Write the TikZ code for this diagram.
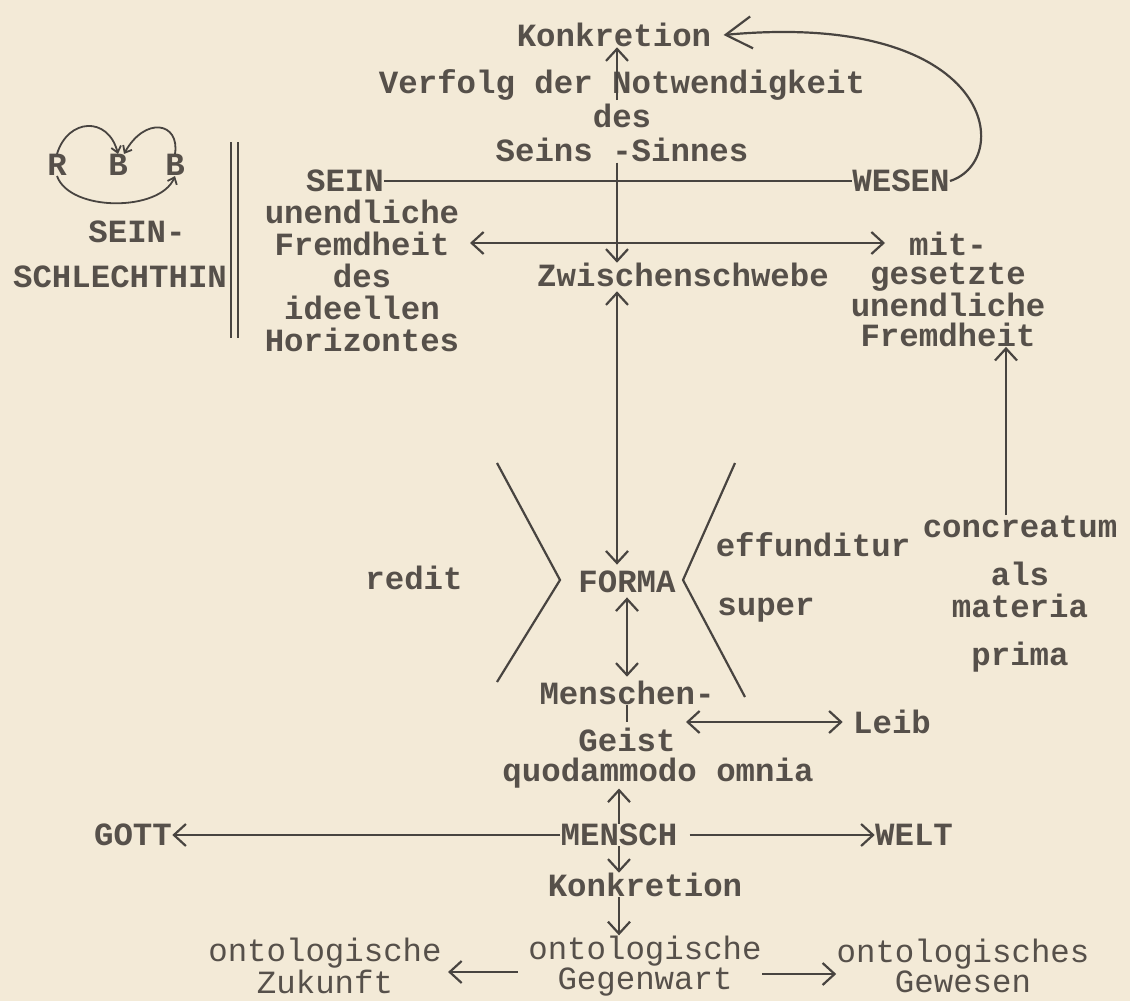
\documentclass[tikz,border=0pt]{standalone}
\usepackage{fontspec}
\setmonofont{Liberation Mono}
\usetikzlibrary{arrows.meta}

\definecolor{paper}{RGB}{243,234,215}
\definecolor{ink}{RGB}{86,80,74}
\definecolor{penc}{RGB}{72,68,64}

\tikzset{
  typed/.style={font=\ttfamily\bfseries\fontsize{16.2}{#1}\selectfont, text=ink, inner sep=0pt, align=center},
  typed/.default=16pt,
  plain/.style={font=\ttfamily\fontsize{16.2}{#1}\selectfont, text=ink, inner sep=0pt, align=center},
  plain/.default=13.5pt,
  pen/.style={draw=penc, line width=1.1pt},
}

\begin{document}
\begin{tikzpicture}[x=0.5pt, y=-0.5pt, >={Straight Barb[length=6pt,width=11pt]}]
    % Paper
    \fill[paper] (0,0) rectangle (1130,1001);
    \useasboundingbox (0,0) rectangle (1130,1001);

    % Upper block
    \node[typed] (konkrTop) at (614,35) {Konkretion};
    \node[typed=17pt] (verfolg) at (622,116) {Verfolg der Notwendigkeit\\des\\Seins -Sinnes};
    \node[typed] (sein) at (345,181) {SEIN};
    \node[typed] (wesen) at (901,181) {WESEN};
    \node[typed] (leftcol) at (362,276) {unendliche\\Fremdheit\\des\\ideellen\\Horizontes};
    \node[typed] (zwischen) at (683,275) {Zwischenschwebe};
    \node[typed=14.7pt] (rightcol) at (948,289) {mit-\\gesetzte\\unendliche\\Fremdheit};

    % Sein schlechthin
    \node[typed] (rN) at (57,165) {R};
    \node[typed] (bMid) at (118,165) {B};
    \node[typed] (bRight) at (175,165) {B};
    \node[typed] (seinS) at (137,232) {SEIN-};
    \node[typed] (schlechthin) at (120,277) {SCHLECHTHIN};

    % Forma
    \node[typed] (redit) at (414,578) {redit};
    \node[typed] (forma) at (627,582) {FORMA};
    \node[typed] (effund) at (813,545) {effunditur};
    \node[typed] (super) at (766,610) {super};
    \node[typed] (concr) at (1020,594) {concreatum\\[8pt]als\\materia\\[8pt]prima};

    % Mensch
    \node[typed] (menschen) at (627,693) {Menschen-};
    \node[typed] (geist) at (627,740) {Geist};
    \node[typed] (leib) at (892,722) {Leib};
    \node[typed] (quod) at (658,773) {quodammodo omnia};
    \node[typed] (mensch) at (619,835) {MENSCH};
    \node[typed] (gott) at (133,835) {GOTT};
    \node[typed] (welt) at (914,835) {WELT};
    \node[typed] (konkrBot) at (645,885) {Konkretion};

    % Ontological time
    \node[plain] (ontoLeft) at (325,966) {ontologische\\Zukunft};
    \node[plain] (ontoMid) at (645,966) {ontologische\\Gegenwart};
    \node[plain] (ontoRight) at (963,966) {ontologisches\\Gewesen};

    % Arrows of the upper block
    \coordinate (up1) at (617,100);
    \draw[pen,->] (up1) -- (up1 |- konkrTop.south);
    \draw[pen,->] (verfolg.south -| up1) -- (zwischen.north -| up1);
    \draw[pen] (sein) -- (wesen);
    \draw[pen,-{Straight Barb[length=13pt,width=16pt]}] (wesen.east) .. controls (1015,160) and (995,10) .. ([xshift=6pt]konkrTop.east);
    \coordinate (fL) at (470,243);
    \coordinate (fR) at (885,243);
    \draw[pen,<->] (fL) -- (fR);
    \coordinate (c1) at (1006,515);
    \draw[pen,->] (c1) -- (c1 |- rightcol.south);

    % Double bar and R-B-B
    \draw[pen, line width=1pt] (231,142) -- (231,338) (238,142) -- (238,338);
    \draw[pen, line width=0.9pt, -{Straight Barb[length=3pt,width=5pt]}] (rN.north) .. controls (68,118) and (108,116) .. (bMid.north);
    \draw[pen, line width=0.9pt, -{Straight Barb[length=3pt,width=5pt]}] (bRight.north) .. controls (180,122) and (145,116) .. ([xshift=3pt]bMid.north);
    \draw[pen, line width=0.9pt, -{Straight Barb[length=3pt,width=5pt]}] (rN.south) .. controls (70,212) and (160,212) .. (bRight.south);

    % Brackets round FORMA
    \draw[pen] (497,463) -- (560,580) -- (497,682);
    \draw[pen] (735,463) -- (683,580) -- (745,697);

    % Arrows of the lower block
    \draw[pen,<->,shorten <=2pt,shorten >=3pt] (zwischen.south -| up1) -- (forma.north -| up1);
    \draw[pen,<->,shorten <=2pt,shorten >=2pt] (forma.south) -- (menschen.north);
    \draw[pen] (menschen.south) -- ++(0,17);
    \draw[pen,<->] ([xshift=5pt]geist.east |- leib.west) -- ([xshift=-5pt]leib.west);
    \draw[pen,->] (mensch.north) -- (mensch.north |- quod.south);
    \draw[pen,->] (mensch) -- (gott);
    \draw[pen,->,shorten <=6pt] (mensch) -- (welt);
    \draw[pen,->] (mensch.south) -- (mensch.south |- konkrBot.north);
    \draw[pen,->] (konkrBot.south -| mensch.south) -- (ontoMid.north -| mensch.south);
    \draw[pen,->,shorten <=5pt] ([yshift=-3pt]ontoMid.west) -- ([xshift=3pt,yshift=-3pt]ontoLeft.east);
    \draw[pen,->] ([yshift=-4pt]ontoMid.east) -- ([yshift=-4pt]ontoRight.west);
\end{tikzpicture}
\end{document}
